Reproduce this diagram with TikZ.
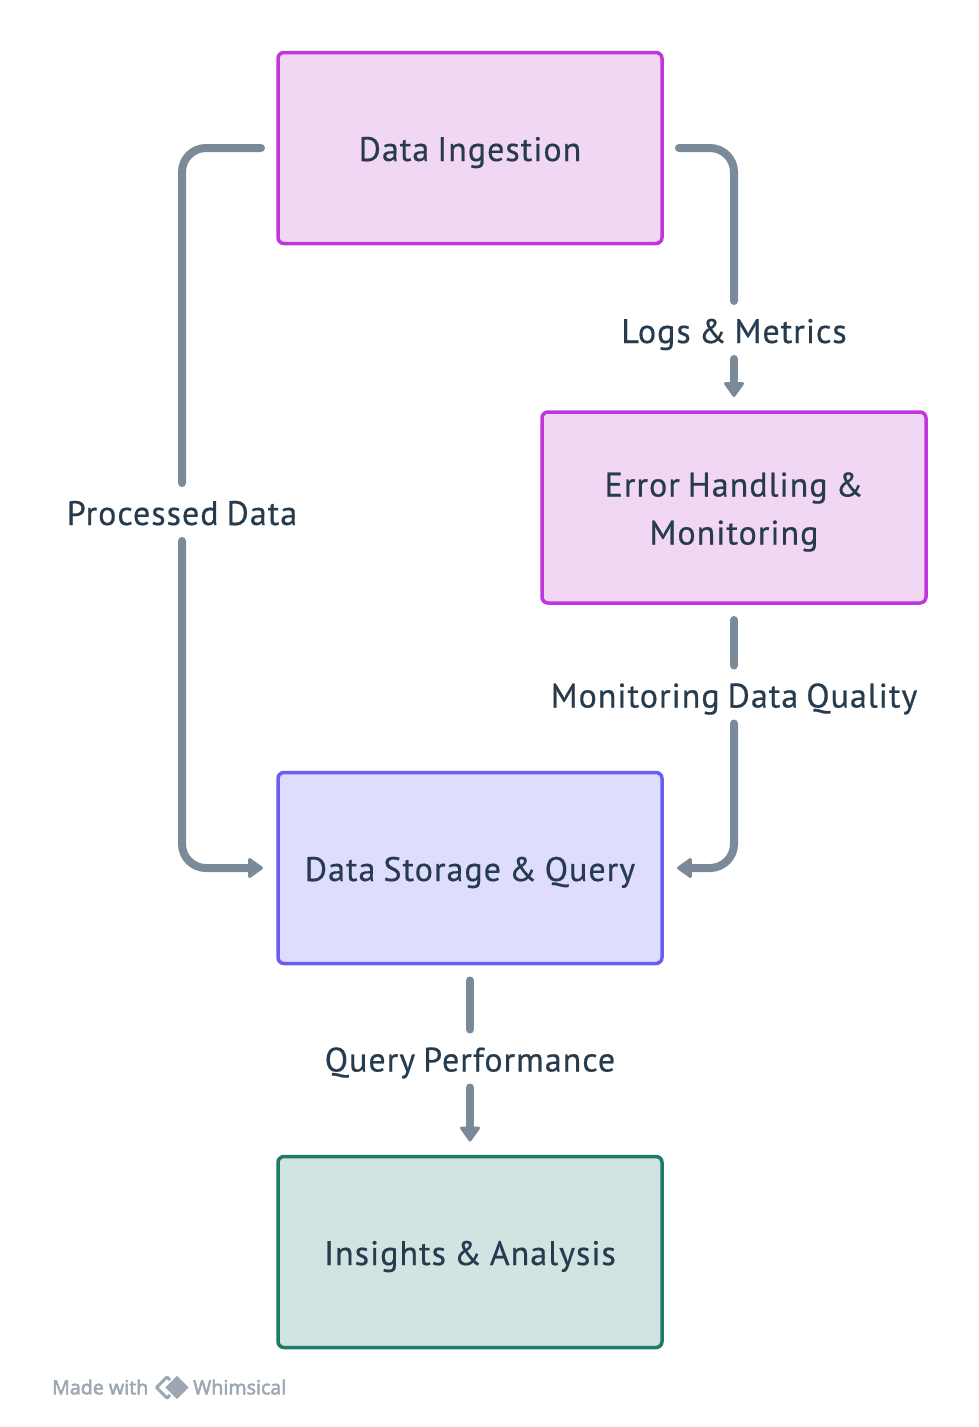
\documentclass[tikz,border=0pt]{standalone}
\usepackage{fontspec}
\setmainfont{PT Sans}[FakeBold=0.5,LetterSpace=3,WordSpace=0.8]
\newfontfamily\wmfont{Noto Sans}[FakeBold=2.2]
\usepackage{xcolor}
\usetikzlibrary{positioning,arrows.meta}
\definecolor{pinkfill}{HTML}{F2D7F4}
\definecolor{pinkline}{HTML}{C035DC}
\definecolor{bluefill}{HTML}{DFDDFD}
\definecolor{blueline}{HTML}{6B5CF4}
\definecolor{greenfill}{HTML}{D2E4E1}
\definecolor{greenline}{HTML}{1F7A68}
\definecolor{linegray}{HTML}{7B8A99}
\definecolor{inktext}{HTML}{263C4E}
\definecolor{wmgray}{HTML}{9CA7B2}
\tikzset{
  blk/.style={draw=pinkline, fill=pinkfill, line width=3.5pt, rounded corners=6pt, outer sep=0pt, minimum width=384pt, minimum height=191pt, font=\fontsize{34}{48}\selectfont, text=inktext, align=center, text height=31pt, text depth=5pt},
  lbl/.style={minimum height=58pt, inner sep=0pt, outer sep=0pt, font=\fontsize{34}{48}\selectfont, text=inktext, text height=31pt, text depth=5pt},
  ln/.style={draw=linegray, line width=8pt, line cap=round, rounded corners=24pt},
  arr/.style={ln, -{Triangle[length=16pt,width=22pt,round,line width=3pt]}, shorten >=15pt},
  frblk/.style={shorten <=17pt},
  wm/.style={inner sep=0pt, text=wmgray, font=\fontsize{19.5}{19.5}\selectfont\wmfont},
}
\begin{document}
\begin{tikzpicture}[x=1pt,y=-1pt]
\useasboundingbox[fill=white] (0,0) rectangle (979,1427);
\node[blk] (ingest) at (470,148) {Data Ingestion};
\node[blk, below right=168.5pt and -120pt of ingest, text height=79pt] (errmon) {Error Handling \&\\Monitoring};
\node[blk, below=529pt of ingest, fill=bluefill, draw=blueline] (storage) {Data Storage \& Query};
\node[blk, below=193pt of storage, fill=greenfill, draw=greenline] (insights) {Insights \& Analysis};
\node[lbl, above=53pt of errmon] (logs) {Logs \& Metrics};
\node[lbl, below=62.5pt of errmon] (quality) {Monitoring Data Quality};
\node[lbl, below=66pt of storage] (perf) {Query Performance};
\node[lbl] (processed) at (182,512) {Processed Data};
\draw[ln, frblk] (ingest.east) -| (logs.north);
\draw[arr] (logs.south) -- (errmon.north);
\draw[ln, frblk] (errmon.south) -- (quality.north);
\draw[arr] (quality.south) |- (storage.east);
\draw[ln, frblk] (ingest.west) -| (processed.north);
\draw[arr] (processed.south) |- (storage.west);
\draw[ln, frblk] (storage.south) -- (perf.north);
\draw[arr] (perf.south) -- (insights.north);
% watermark
\node[wm, anchor=west] (made) at (52,1387) {Made with};
\node[wm, anchor=west] (whim) at (193,1387) {Whimsical};
\draw[wmgray, line width=3pt, line join=round] (156.5,1387.5) -- (167,1377) -- (177.5,1387.5) -- (167,1398) -- cycle;
\draw[white, fill=wmgray, line width=1.5pt, line join=round] (164,1387.5) -- (177,1374.5) -- (190,1387.5) -- (177,1400.5) -- cycle;
\end{tikzpicture}
\end{document}
